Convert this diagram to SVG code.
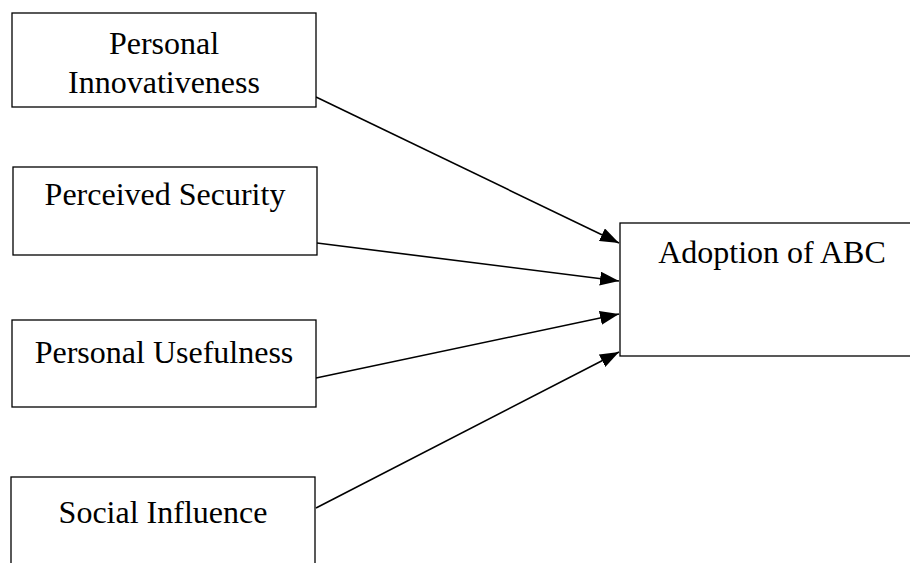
<svg xmlns="http://www.w3.org/2000/svg" width="910" height="563" viewBox="0 0 910 563">
  <style>
    .box { fill: #ffffff; stroke: #000000; stroke-width: 1.3; }
    .lbl { font-family: "Liberation Serif", "Times New Roman", serif; font-size: 32px; fill: #000000; text-anchor: middle; }
    .conn { stroke: #000000; stroke-width: 1.6; fill: none; marker-end: url(#arrow); }
  </style>
  <defs>
    <marker id="arrow" markerUnits="userSpaceOnUse" markerWidth="20" markerHeight="14" refX="19" refY="7" orient="auto">
      <path d="M0,0 L19,7 L0,14 Z" fill="#000000"/>
    </marker>
  </defs>
  <rect x="0" y="0" width="910" height="563" fill="#ffffff"/>
  <g id="connectors">
    <line class="conn" x1="316" y1="97" x2="619" y2="243"/>
    <line class="conn" x1="317" y1="243" x2="619" y2="281"/>
    <line class="conn" x1="316" y1="378" x2="619" y2="314"/>
    <line class="conn" x1="316" y1="508" x2="619" y2="352"/>
  </g>
  <g id="personal-innovativeness">
    <rect class="box" x="12" y="13" width="304" height="94"/>
    <text class="lbl" x="164" y="54">Personal</text>
    <text class="lbl" x="164" y="93">Innovativeness</text>
  </g>
  <g id="perceived-security">
    <rect class="box" x="13" y="167" width="304" height="88"/>
    <text class="lbl" x="165" y="205">Perceived Security</text>
  </g>
  <g id="personal-usefulness">
    <rect class="box" x="12" y="320" width="304" height="87"/>
    <text class="lbl" x="164" y="363">Personal Usefulness</text>
  </g>
  <g id="social-influence">
    <rect class="box" x="11" y="477" width="304" height="100"/>
    <text class="lbl" x="163" y="523">Social Influence</text>
  </g>
  <g id="adoption-of-abc">
    <rect class="box" x="620" y="223" width="300" height="133"/>
    <text class="lbl" x="772" y="263">Adoption of ABC</text>
  </g>
</svg>
